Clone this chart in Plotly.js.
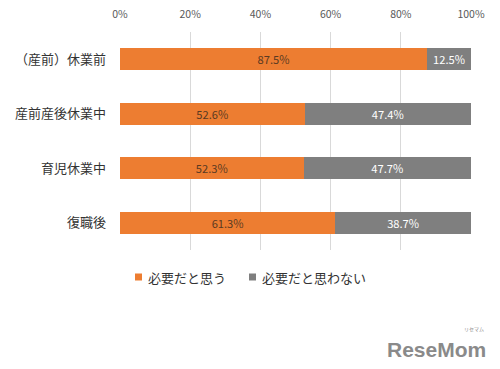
<!DOCTYPE html>
<html>
<head>
<meta charset="utf-8">
<script src="https://cdn.plot.ly/plotly-3.0.1.min.js"></script>
<style>html,body{margin:0;padding:0;background:#fff;}#chart{width:500px;height:369px;}</style>
</head>
<body>
<div id="chart"></div>
<script>
const categories = ['（産前）休業前', '産前産後休業中', '育児休業中', '復職後'];
const seriesNames = ['必要だと思う', '必要だと思わない'];
const needYes = [87.5, 52.6, 52.3, 61.3];
const needNo = [12.5, 47.4, 47.7, 38.7];
const tickVals = [0, 20, 40, 60, 80, 100];
const tickText = ['0%', '20%', '40%', '60%', '80%', '100%'];
const colors = ['#ED7D31', '#7F7F7F'];

const font = '"Noto Sans CJK JP", "Noto Sans", sans-serif';

const traces = [
  {
    type: 'bar', orientation: 'h', name: seriesNames[0],
    y: categories, x: needYes,
    marker: {color: colors[0]},
    texttemplate: '%{x:.1f}%', textposition: 'inside', insidetextanchor: 'middle',
    textfont: {color: '#5a3a22', size: 12, family: font},
    hoverinfo: 'none', showlegend: false
  },
  {
    type: 'bar', orientation: 'h', name: seriesNames[1],
    y: categories, x: needNo,
    marker: {color: colors[1]},
    texttemplate: '%{x:.1f}%', textposition: 'inside', insidetextanchor: 'middle',
    textfont: {color: '#ffffff', size: 12, family: font},
    hoverinfo: 'none', showlegend: false
  }
];

// legend drawn as small squares + text (paper coordinates)
const px = x => (x - 120) / 351;
const py = y => (250 - y) / 218;
const legendItems = [
  {sq: 135, tx: 146},
  {sq: 249, tx: 260}
];
const shapes = legendItems.map((it, i) => ({
  type: 'rect', xref: 'paper', yref: 'paper',
  x0: px(it.sq), x1: px(it.sq + 7), y0: py(280.5), y1: py(273.5),
  fillcolor: colors[i], line: {width: 0}
}));
const legendAnn = legendItems.map((it, i) => ({
  text: seriesNames[i], xref: 'paper', yref: 'paper',
  x: px(it.tx), y: py(277), xanchor: 'left', yanchor: 'middle',
  showarrow: false, font: {size: 13, color: '#333', family: font}
}));

const layout = {
  width: 500, height: 369,
  margin: {l: 120, r: 29, t: 32, b: 119, pad: 0},
  barmode: 'stack',
  bargap: 0.6,
  paper_bgcolor: '#fff', plot_bgcolor: '#fff',
  font: {family: font, color: '#333', size: 12},
  xaxis: {
    side: 'top', range: [0, 100], tickvals: tickVals, ticktext: tickText,
    showgrid: true, gridcolor: '#D9D9D9', gridwidth: 1,
    zeroline: false, showline: false, ticks: '',
    tickfont: {size: 10.5, color: '#595959', family: font},
    ticklabelstandoff: 11,
    fixedrange: true
  },
  yaxis: {
    autorange: 'reversed', showgrid: false, zeroline: false, showline: false,
    ticks: '', tickfont: {size: 13, color: '#333', family: font},
    ticklabelstandoff: 13,
    fixedrange: true
  },
  showlegend: false,
  shapes: shapes,
  annotations: legendAnn.concat([
    {
      text: '<b>ReseMom</b>', xref: 'paper', yref: 'paper',
      x: px(488), y: py(336), xanchor: 'right', yanchor: 'top',
      showarrow: false,
      font: {size: 21, color: '#8a8a8a', family: '"Liberation Sans", Arial, sans-serif'}
    },
    {
      text: 'リセマム', xref: 'paper', yref: 'paper',
      x: px(486), y: py(335), xanchor: 'right', yanchor: 'bottom',
      showarrow: false,
      font: {size: 5, color: '#8a8a8a', family: font}
    }
  ])
};

Plotly.newPlot('chart', traces, layout, {displayModeBar: false, staticPlot: true});
</script>
</body>
</html>
